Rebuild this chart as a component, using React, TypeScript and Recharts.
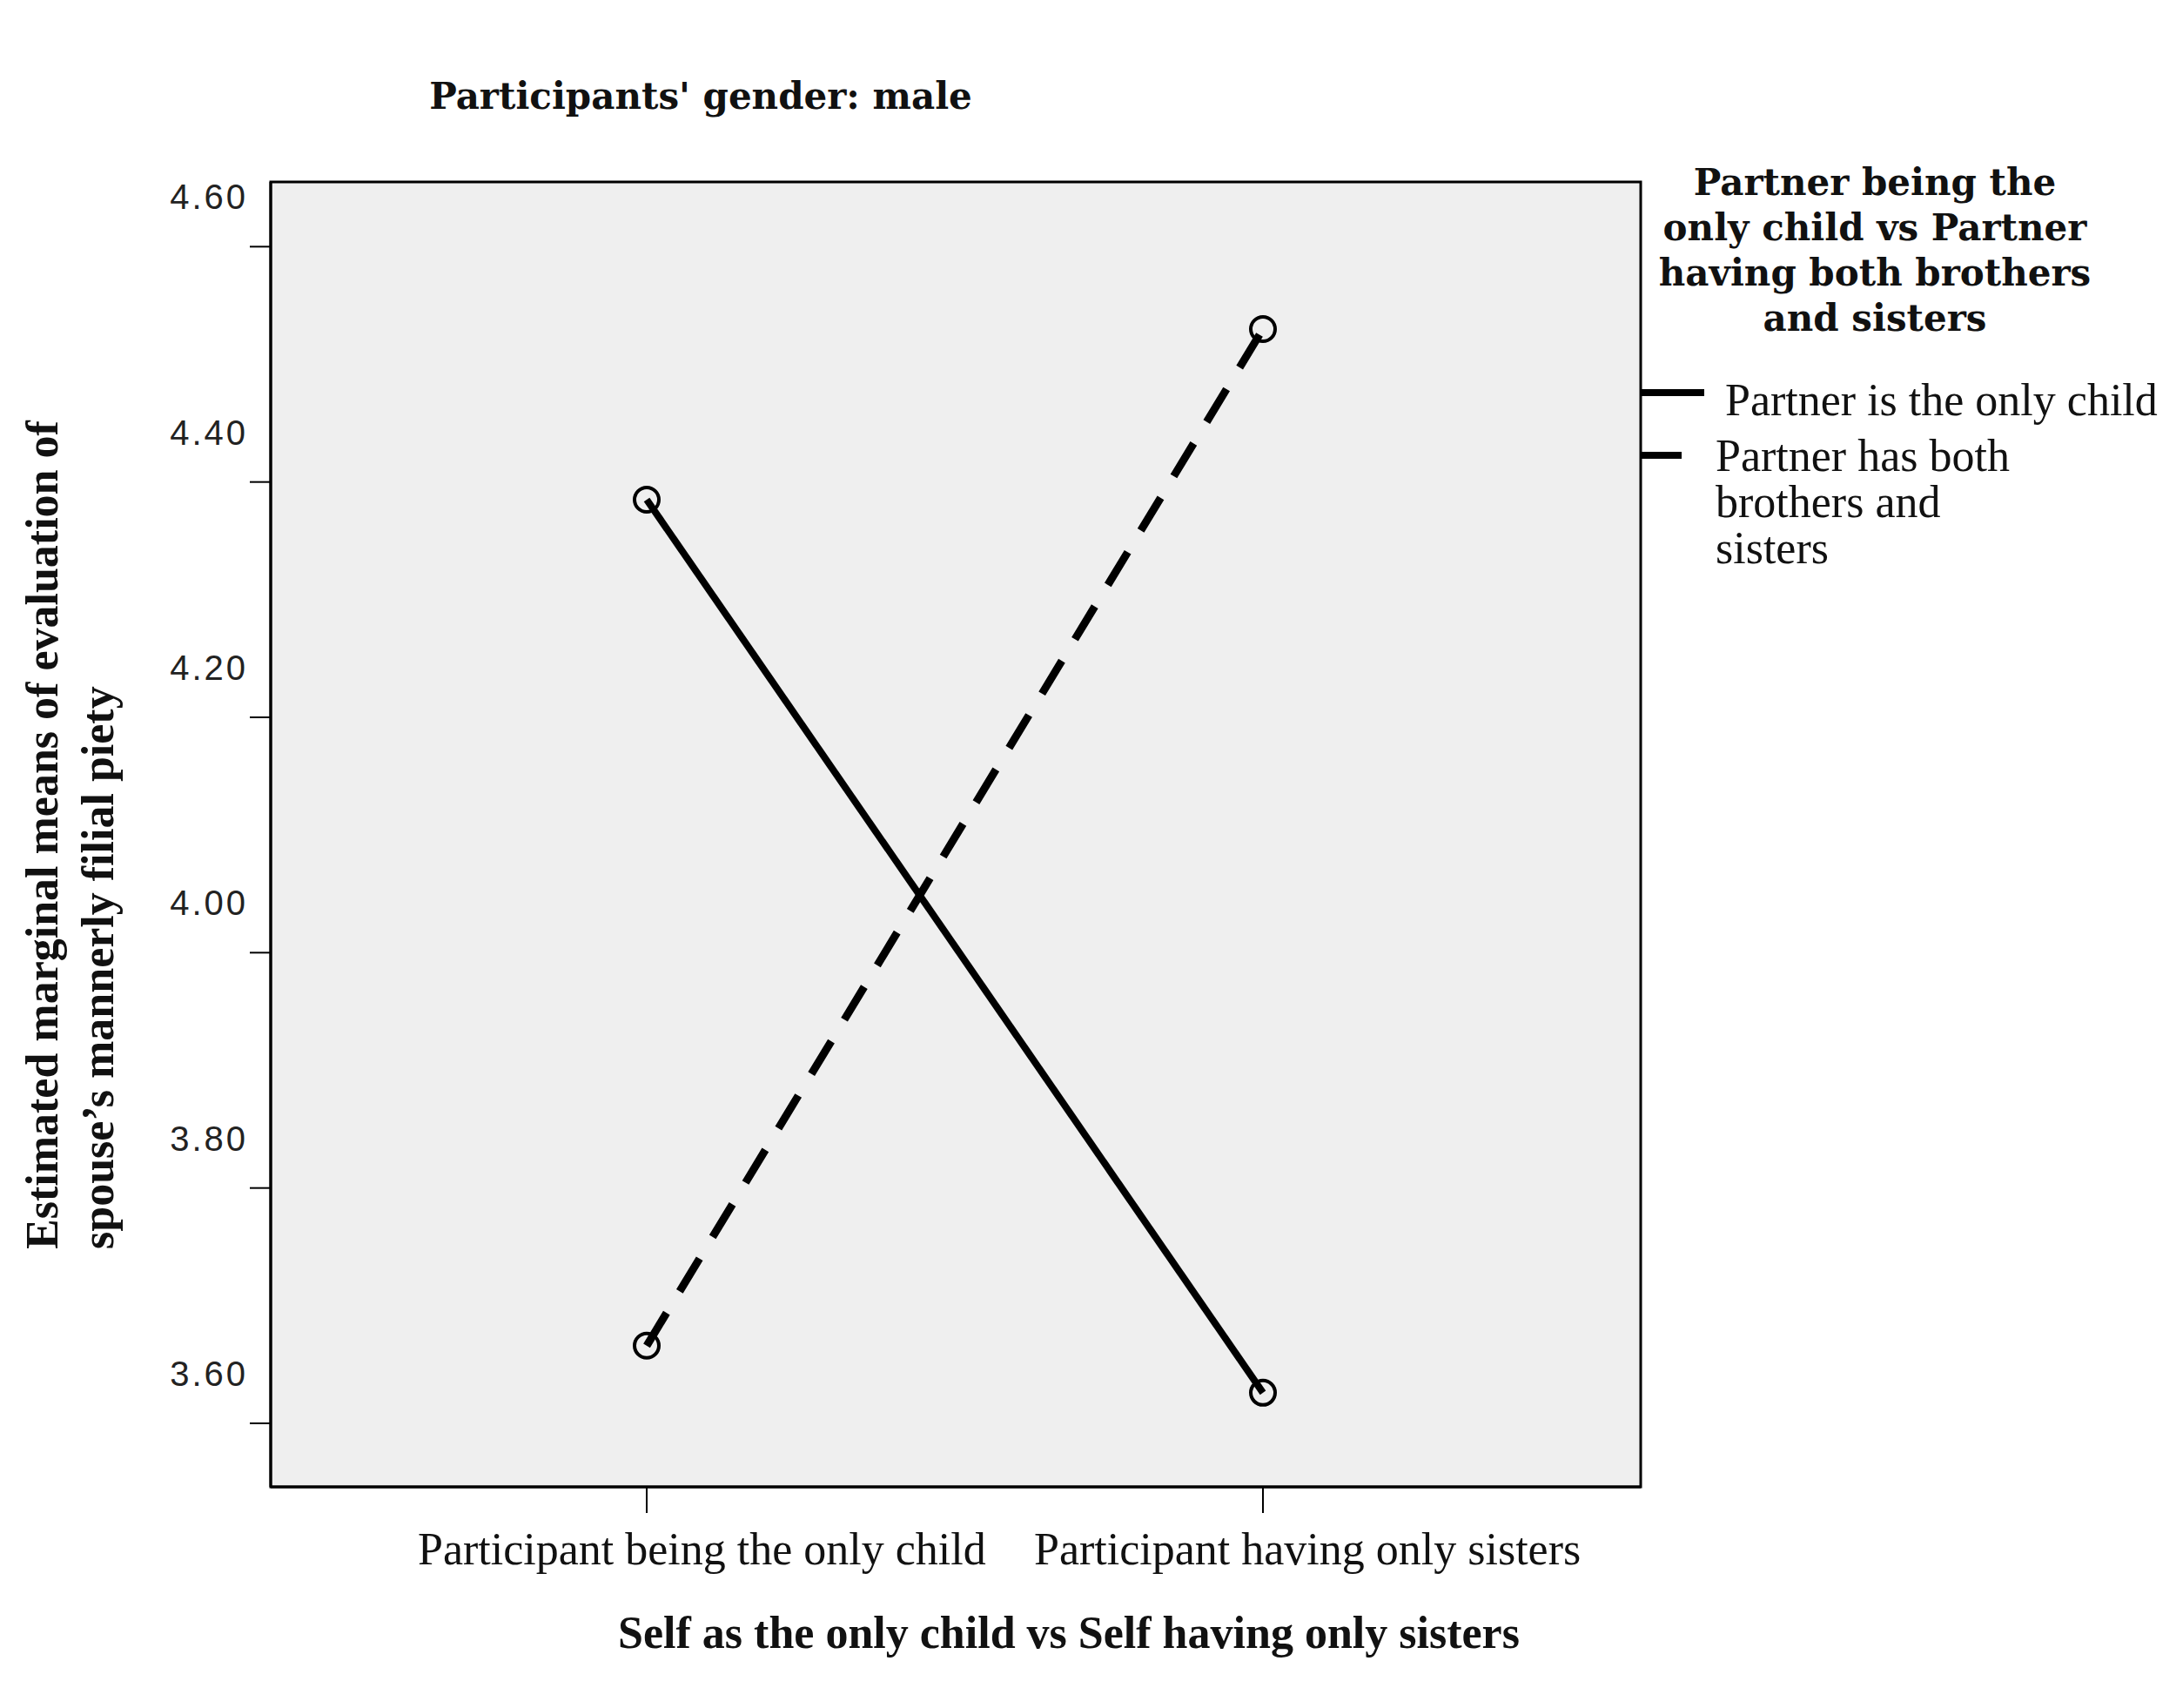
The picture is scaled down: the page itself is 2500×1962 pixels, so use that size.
import { CartesianGrid, Line, LineChart, ReferenceArea, XAxis, YAxis } from 'recharts';

const categories = ['Participant being the only child', 'Participant having only sisters'];
const partnerOnlyChild = [4.385, 3.626];
const partnerBothSiblings = [3.666, 4.53];
const yTicks = [3.6, 3.8, 4.0, 4.2, 4.4, 4.6];
const yDomain = [3.546, 4.655];

const seriesNames = ['Partner is the only child', 'Partner has both brothers and sisters'];
const legendTitle = ['Partner being the', 'only child vs Partner', 'having both brothers', 'and sisters'];
const legendSecondLines = ['Partner has both', 'brothers and', 'sisters'];
const chartTitle = "Participants' gender: male";
const xTitle = 'Self as the only child vs Self having only sisters';
const yTitle = ['Estimated marginal means of evaluation of', 'spouse\u2019s mannerly filial piety'];

const data = categories.map((c, i) => ({
  name: c,
  only: partnerOnlyChild[i],
  both: partnerBothSiblings[i],
}));

const serif = '"Liberation Serif", "Times New Roman", serif';
const wideSerif = '"DejaVu Serif", serif';

const YTick = (props: any) => {
  const { x, y, payload } = props;
  return (
    <text x={x} y={y - 57} textAnchor="end" dominantBaseline="central"
      fontFamily='"Liberation Sans", Arial, sans-serif' fontSize={40} letterSpacing={3} fill="#222">
      {payload.value.toFixed(2)}
    </text>
  );
};

const XTick = (props: any) => {
  const { x, y, payload } = props;
  return (
    <text x={x - 263} y={y + 39} textAnchor="start" dominantBaseline="central"
      fontFamily={serif} fontSize={52} fill="#111">
      {payload.value}
    </text>
  );
};

const App = () => {
  return (
    <div style={{ position: 'absolute', left: 0, top: 0, background: '#fff' }}>
      <LineChart width={2500} height={1962} data={data}
        margin={{ top: 209, right: 615, bottom: 194, left: 191 }}>
        <CartesianGrid fill="#efefef" horizontal={false} vertical={false} />
        <XAxis dataKey="name" type="category" height={60} padding={{ left: 432, right: 434 }}
          axisLine={{ stroke: '#000', strokeWidth: 3 }} tickLine={{ stroke: '#000', strokeWidth: 2 }}
          tickSize={30} tickMargin={2} tick={<XTick />} interval={0} />
        {/* plain 0..1 axis only used to frame the plot area */}
        <XAxis xAxisId="frame" type="number" domain={[0, 1]} hide />
        <YAxis type="number" domain={yDomain} ticks={yTicks} width={120}
          axisLine={{ stroke: '#000', strokeWidth: 3 }} tickLine={{ stroke: '#000', strokeWidth: 2 }}
          tickSize={24} tickMargin={2} tick={<YTick />} allowDataOverflow />
        <ReferenceArea xAxisId="frame" x1={0} x2={1} y1={yDomain[0]} y2={yDomain[1]}
          fill="none" fillOpacity={0} stroke="#000" strokeWidth={3} ifOverflow="visible" />
        <Line dataKey="only" name={seriesNames[0]} stroke="#000" strokeWidth={8}
          dot={{ r: 14, stroke: '#000', strokeWidth: 4, fill: 'none' }} isAnimationActive={false} />
        <Line dataKey="both" name={seriesNames[1]} stroke="#000" strokeWidth={9} strokeDasharray="44 29"
          dot={{ r: 14, stroke: '#000', strokeWidth: 4, fill: 'none', strokeDasharray: '0' }} isAnimationActive={false} />

        <text x={805} y={110} textAnchor="middle" dominantBaseline="central"
          fontFamily={wideSerif} fontWeight="bold" fontSize={42} fill="#111">{chartTitle}</text>
        <text x={1228} y={1875} textAnchor="middle" dominantBaseline="central"
          fontFamily={serif} fontWeight="bold" fontSize={52} fill="#111">{xTitle}</text>
        {yTitle.map((t, i) => (
          <text key={t} x={48 + i * 64} y={1435} transform={`rotate(-90 ${48 + i * 64} 1435)`}
            textAnchor="start" dominantBaseline="central" fontFamily={serif} fontWeight="bold"
            fontSize={52} fill="#111">{t}</text>
        ))}
        {legendTitle.map((t, i) => (
          <text key={t} x={2154} y={209 + i * 52} textAnchor="middle" dominantBaseline="central"
            fontFamily={wideSerif} fontWeight="bold" fontSize={42} fill="#111">{t}</text>
        ))}
        <line x1={1885} x2={1958} y1={451} y2={451} stroke="#000" strokeWidth={8} />
        <text x={1982} y={459} dominantBaseline="central" fontFamily={serif} fontSize={52} fill="#111">
          {seriesNames[0]}
        </text>
        <line x1={1885} x2={1932} y1={523} y2={523} stroke="#000" strokeWidth={8} />
        {legendSecondLines.map((t, i) => (
          <text key={t} x={1971} y={523 + i * 53} dominantBaseline="central" fontFamily={serif}
            fontSize={52} fill="#111">{t}</text>
        ))}
      </LineChart>
    </div>
  );
};

export default App;
